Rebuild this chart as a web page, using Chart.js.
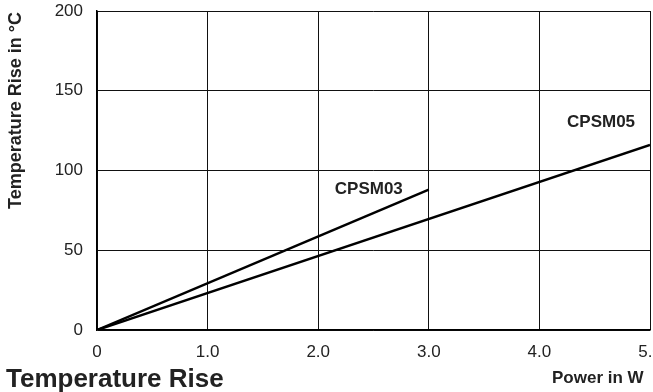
<!DOCTYPE html>
<html>
<head>
<meta charset="utf-8">
<script src="https://cdn.jsdelivr.net/npm/chart.js@4"></script>
<style>
  html, body { margin: 0; padding: 0; background: #fff; }
  canvas { display: block; }
</style>
</head>
<body>
<canvas id="riseChart" width="653" height="392"></canvas>
<script>
// values
const cpsm03Power = [0, 3.0];
const cpsm03Rise = [0, 88];
const cpsm05Power = [0, 5.0];
const cpsm05Rise = [0, 116];
const xTicks = [0, 1, 2, 3, 4, 5];
const yTicks = [0, 50, 100, 150, 200];
const seriesNames = ['CPSM03', 'CPSM05'];
// where the curve labels sit, in data units (x = W, y = °C)
const labelAt = [[2.15, 85], [4.25, 127]];

const FONT = '"Liberation Sans", Arial, Helvetica, sans-serif';

const toPoints = (xs, ys) => xs.map((x, i) => ({ x: x, y: ys[i] }));

const textPlugin = {
  id: 'texts',
  afterDraw(chart) {
    const ctx = chart.ctx;
    const xs = chart.scales.x, ys = chart.scales.y;
    ctx.save();
    ctx.fillStyle = '#222';
    ctx.textBaseline = 'alphabetic';
    ctx.textAlign = 'left';

    // curve labels
    ctx.font = 'bold 17px ' + FONT;
    seriesNames.forEach((name, i) => {
      ctx.fillText(name, xs.getPixelForValue(labelAt[i][0]), ys.getPixelForValue(labelAt[i][1]));
    });

    // chart title, bottom left
    ctx.font = 'bold 26px ' + FONT;
    ctx.fillText('Temperature Rise', 6, 387);

    // x axis title
    ctx.font = 'bold 17px ' + FONT;
    ctx.fillText('Power in W', 552, 383);

    // y axis title
    ctx.save();
    ctx.translate(21, 209);
    ctx.rotate(-Math.PI / 2);
    ctx.font = 'bold 18px ' + FONT;
    ctx.fillText('Temperature Rise in °C', 0, 0);
    ctx.restore();

    ctx.restore();
  }
};

const ctx = document.getElementById('riseChart').getContext('2d');
new Chart(ctx, {
  type: 'scatter',
  data: {
    datasets: [
      {
        label: seriesNames[0],
        data: toPoints(cpsm03Power, cpsm03Rise),
        showLine: true,
        borderColor: '#000',
        borderWidth: 2.5,
        pointRadius: 0,
        tension: 0
      },
      {
        label: seriesNames[1],
        data: toPoints(cpsm05Power, cpsm05Rise),
        showLine: true,
        borderColor: '#000',
        borderWidth: 2.5,
        pointRadius: 0,
        tension: 0
      }
    ]
  },
  options: {
    responsive: false,
    animation: false,
    layout: { padding: { top: 11, right: 3, left: 0, bottom: 0 } },
    plugins: {
      legend: { display: false },
      tooltip: { enabled: false }
    },
    scales: {
      x: {
        type: 'linear',
        min: xTicks[0],
        max: xTicks[xTicks.length - 1],
        afterBuildTicks: (s) => { s.ticks = xTicks.map(v => ({ value: v })); },
        afterFit: (s) => { s.height = 62; s.paddingLeft = 0; s.paddingRight = 0; },
        ticks: {
          padding: 12,
          color: '#222',
          font: { family: FONT, size: 17 },
          maxRotation: 0,
          callback: (v) => v === 0 ? '0' : v.toFixed(1)
        },
        grid: { color: '#111', lineWidth: 1, drawTicks: false },
        border: { color: '#000', width: 1.5 }
      },
      y: {
        min: yTicks[0],
        max: yTicks[yTicks.length - 1],
        afterBuildTicks: (s) => { s.ticks = yTicks.map(v => ({ value: v })); },
        afterFit: (s) => { s.width = 97; s.paddingTop = 0; s.paddingBottom = 0; },
        ticks: {
          padding: 14,
          color: '#222',
          font: { family: FONT, size: 17 }
        },
        grid: { color: '#111', lineWidth: 1, drawTicks: false },
        border: { color: '#000', width: 1.5 }
      }
    }
  },
  plugins: [textPlugin]
});
</script>
</body>
</html>
